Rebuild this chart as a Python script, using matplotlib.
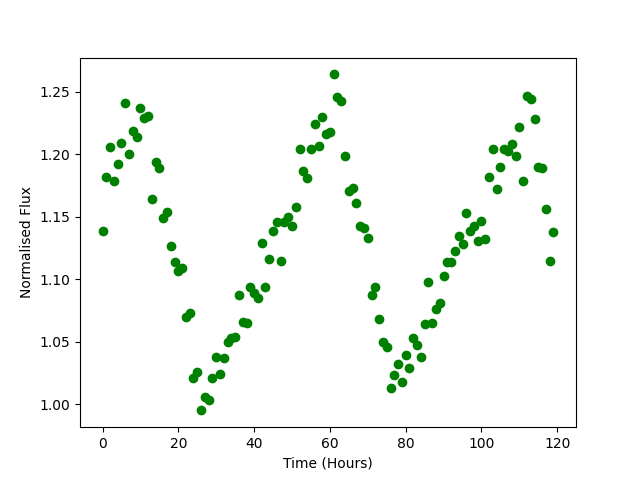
import numpy as np
import matplotlib
matplotlib.use("Agg")
import matplotlib.pyplot as plt

time_hours = list(range(120))
flux = [
    1.139, 1.182, 1.206, 1.179, 1.192, 1.209, 1.241, 1.200, 1.219, 1.214,
    1.237, 1.229, 1.231, 1.164, 1.194, 1.189, 1.149, 1.154, 1.127, 1.114,
    1.107, 1.109, 1.070, 1.073, 1.021, 1.026, 0.995, 1.006, 1.003, 1.021,
    1.038, 1.024, 1.037, 1.050, 1.053, 1.054, 1.087, 1.066, 1.065, 1.094,
    1.089, 1.085, 1.129, 1.094, 1.116, 1.139, 1.146, 1.115, 1.146, 1.150,
    1.143, 1.158, 1.204, 1.187, 1.181, 1.204, 1.224, 1.207, 1.230, 1.216,
    1.218, 1.264, 1.246, 1.243, 1.199, 1.171, 1.173, 1.161, 1.143, 1.141,
    1.133, 1.087, 1.094, 1.068, 1.050, 1.046, 1.013, 1.023, 1.032, 1.018,
    1.039, 1.029, 1.053, 1.047, 1.038, 1.064, 1.098, 1.065, 1.076, 1.081,
    1.103, 1.114, 1.114, 1.123, 1.135, 1.128, 1.153, 1.139, 1.143, 1.131,
    1.147, 1.132, 1.182, 1.204, 1.172, 1.190, 1.204, 1.203, 1.208, 1.199,
    1.222, 1.179, 1.247, 1.244, 1.228, 1.190, 1.189, 1.156, 1.115, 1.138,
]

fig, ax = plt.subplots(figsize=(6.4, 4.8), dpi=100)
ax.plot(time_hours, flux, 'o', color='green')
ax.set_xlabel("Time (Hours)")
ax.set_ylabel("Normalised Flux")
fig.savefig("out.png")
